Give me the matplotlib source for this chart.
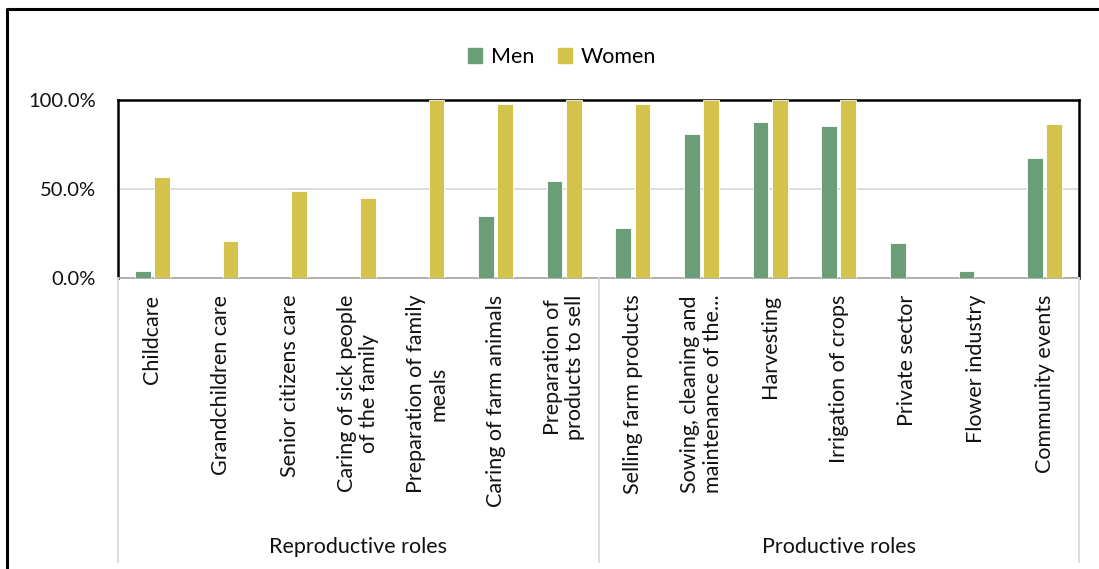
import matplotlib
matplotlib.use("Agg")
import matplotlib.pyplot as plt
import matplotlib.transforms as mtransforms
from matplotlib.lines import Line2D
from matplotlib.patches import Patch
import numpy as np

plt.rcParams["font.family"] = ["Lato", "DejaVu Sans"]

categories = [
    "Childcare", "Grandchildren care", "Senior citizens care",
    "Caring of sick people\nof the family", "Preparation of family\nmeals",
    "Caring of farm animals", "Preparation of\nproducts to sell",
    "Selling farm products", "Sowing, cleaning and\nmaintenance of the...",
    "Harvesting", "Irrigation of crops", "Private sector",
    "Flower industry", "Community events",
]
groups = ["Reproductive roles", "Productive roles"]
group_sizes = [7, 7]
men = [4.2, 0, 0, 0, 0, 34.7, 54.4, 28.1, 81.0, 87.4, 85.2, 19.5, 4.2, 67.5]
women = [57.0, 20.7, 48.8, 44.7, 100.0, 97.9, 100.0, 97.9, 100.0, 100.0, 100.0, 0, 0, 86.7]
yticks = [0, 50, 100]

GREEN = "#6A9D78"
YELLOW = "#D3C24B"
TXT = "#111111"
W, H = 1099, 569

fig = plt.figure(figsize=(W / 100, H / 100), dpi=100)
ax = fig.add_axes([118 / W, 1 - 278 / H, (1079 - 118) / W, (278 - 100) / H])

x = np.arange(len(categories))
ax.bar(x - 0.14, men, width=0.23, color=GREEN, edgecolor="white", linewidth=0.6, zorder=3)
ax.bar(x + 0.14, women, width=0.23, color=YELLOW, edgecolor="white", linewidth=0.6, zorder=3)

ax.set_xlim(-0.5, len(categories) - 0.5)
ax.set_ylim(0, 100)
ax.set_yticks(yticks)
ax.set_yticklabels([f"{v:.1f}%" for v in yticks], fontsize=14.5, color=TXT)
ax.yaxis.grid(True, color="#D9D9D9", linewidth=1.3, zorder=0)
ax.set_xticks(x)
ax.set_xticklabels(categories, rotation=90, fontsize=15.5, color=TXT,
                   multialignment="center", linespacing=1.15)
ax.tick_params(axis="y", length=0, pad=16)
ax.tick_params(axis="x", length=0, pad=12)
for k, sp in ax.spines.items():
    sp.set_color("black")
    sp.set_linewidth(1.8)
ax.spines["bottom"].set_color("#A6A6A6")
ax.spines["bottom"].set_linewidth(1.2)

# group separators and labels below the category axis
trans = mtransforms.blended_transform_factory(ax.transData, fig.transFigure)
y_top = 1 - 278 / H
y_bot = 1 - 562 / H
bounds = np.concatenate([[0], np.cumsum(group_sizes)]) - 0.5
for b in bounds:
    fig.add_artist(Line2D([b, b], [y_top, y_bot], transform=trans,
                          color="#D9D9D9", linewidth=1.3))
for g, lo, hi in zip(groups, bounds[:-1], bounds[1:]):
    fig.text((lo + hi) / 2, 1 - 547 / H, g, transform=trans, ha="center",
             va="center", fontsize=15.5, color=TXT)

# legend
ax.legend(handles=[Patch(color=GREEN, label="Men"), Patch(color=YELLOW, label="Women")],
          loc="center", bbox_to_anchor=(562 / W, 1 - 57 / H),
          bbox_transform=fig.transFigure, ncol=2, frameon=False, fontsize=15.5,
          handlelength=0.65, handleheight=0.65, handletextpad=0.4, columnspacing=1.1)

# outer chart border (left and top visible)
fig.add_artist(Line2D([7 / W, 7 / W, 1.0], [0.0, 1 - 9 / H, 1 - 9 / H],
                      transform=fig.transFigure, color="black", linewidth=2.2))

fig.savefig("out.png", dpi=100, facecolor="white")
